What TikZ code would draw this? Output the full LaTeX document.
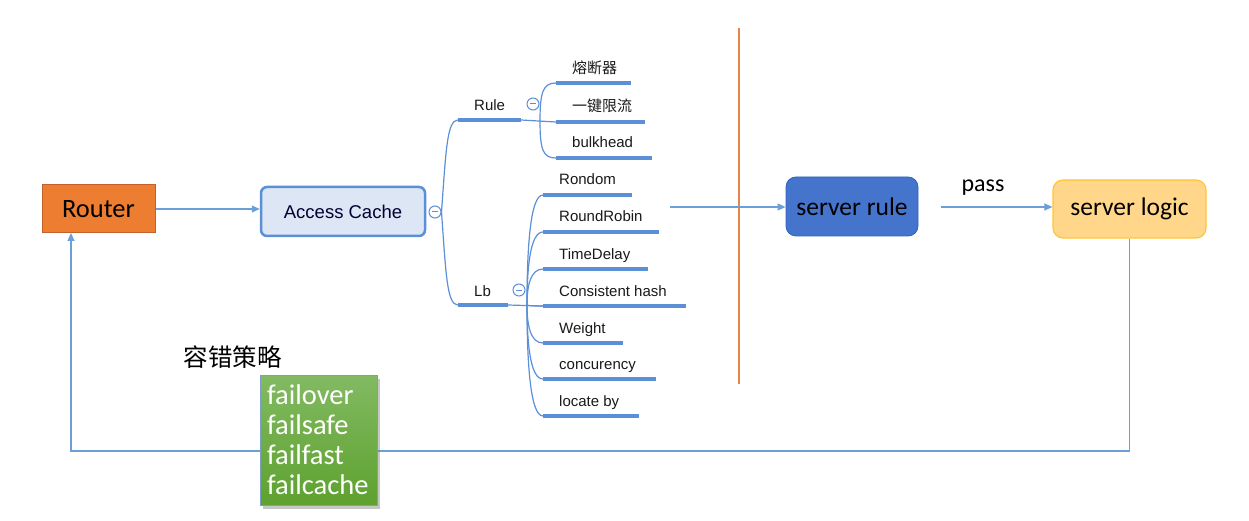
\documentclass[tikz,border=0pt]{standalone}
\usepackage{fontspec}
\setmainfont{Liberation Sans}
\newfontfamily\cjkf{Noto Sans CJK SC}
\newfontfamily\carl{Carlito}
\usetikzlibrary{arrows.meta,shadows}
\definecolor{mmblue}{HTML}{5B8FD6}
\definecolor{lnblue}{HTML}{6A9FD8}
\definecolor{routerfill}{HTML}{ED7D31}
\definecolor{routerdraw}{HTML}{C0622A}
\definecolor{acfill}{HTML}{DCE6F4}
\definecolor{acdraw}{HTML}{5B8FD6}
\definecolor{srfill}{HTML}{4574CC}
\definecolor{srbot}{HTML}{2F62BE}
\definecolor{slfill}{HTML}{FFD68A}
\definecolor{sldraw}{HTML}{FFC533}
\definecolor{gtop}{HTML}{82BA62}
\definecolor{gbot}{HTML}{5EA12F}
\definecolor{gdraw}{HTML}{7C9EC2}
\definecolor{orline}{HTML}{E8834A}
\tikzset{
  conn/.style={draw=lnblue, line width=1.2pt},
  arr/.style={conn, -{Triangle[length=8pt,width=7pt]}},
  thick ul/.style={draw=mmblue, line width=3.5pt},
  thin br/.style={draw=mmblue, line width=1.2pt},
  mmtext/.style={anchor=base west, inner sep=0pt, font=\fontsize{15}{17}\selectfont, text=black!90},
  toggle/.style={circle, draw=mmblue, fill=white, line width=1pt, minimum size=12pt, inner sep=0pt},
}
\begin{document}
\begin{tikzpicture}[x=1pt,y=-1pt]
\useasboundingbox (0,0) rectangle (1249,521);

% main nodes
\node[draw=routerdraw, fill=routerfill, line width=1pt, minimum width=113pt, minimum height=48pt, inner sep=0pt,
      text=black, font=\carl\fontsize{26.5}{28}\selectfont] (router) at (98.5,209) {Router};
\node[draw=acdraw, fill=acfill, line width=2.5pt, rounded corners=6pt, minimum width=164pt, minimum height=49pt, inner sep=0pt,
      font=\fontsize{18.5}{20}\selectfont, text=black!80!blue] (ac) at (343,211.5) {Access Cache};
\node[fill=srfill, draw=srbot, line width=0.8pt, rounded corners=10pt, minimum width=132pt, minimum height=59pt, inner sep=0pt,
      text=black, font=\carl\fontsize{25.5}{28}\selectfont] (srule) at (852,206.5) {server rule};
\node[fill=slfill, draw=sldraw, line width=1.2pt, rounded corners=10pt, minimum width=153pt, minimum height=58pt, inner sep=0pt,
      text=black, font=\carl\fontsize{25.5}{28}\selectfont] (slogic) at (1129.5,209) {server logic};

% orange divider
\coordinate (otop) at (739,28);
\coordinate (obot) at (739,384);
\draw[orline, line width=1.6pt] (otop) -- (obot);

% connectors
\draw[arr] (router.east) -- (router.east -| ac.west);
\coordinate (mmout) at (670,207);
\draw[arr] (mmout) -- (mmout -| srule.west);
\coordinate (passstart) at (941,207);
\draw[arr] (passstart) -- (passstart -| slogic.west);
\node[font=\carl\fontsize{24}{26}\selectfont, inner sep=0pt] (pass) at (983,188) {pass};

% feedback loop
\coordinate (fb) at (0,451);
\coordinate (rin) at (71,233);
\draw[arr] (slogic.south) -- (slogic.south |- fb) -- (rin |- fb) -- (rin);

% fault-tolerance label and box
\node[font=\cjkf\fontsize{24.5}{26}\selectfont, inner sep=0pt] (ftlabel) at (232.5,357) {容错策略};
\node[top color=gtop, bottom color=gbot, draw=gdraw, line width=1pt, minimum width=117pt, minimum height=130pt, inner sep=0pt,
      drop shadow={opacity=0.45, shadow xshift=2.5pt, shadow yshift=-3.5pt}] (fbox) at (318.5,440) {};
\node[inner xsep=7pt, inner ysep=0pt, text width=103pt, align=left, text=white,
      font=\carl\fontsize{28.5}{30}\selectfont, minimum height=130pt] (fbtext) at (fbox.center)
      {failover\\failsafe\\failfast\\failcache};

% ---- mind map ----
\node[toggle] (t0) at (435,212) {};
\draw[mmblue, line width=1pt] ([xshift=-3pt]t0.center) -- ([xshift=3pt]t0.center);

% Rule and Lb underlines
\coordinate (ruleA) at (458,120); \coordinate (ruleB) at (521,120);
\coordinate (lbA) at (458,305);   \coordinate (lbB) at (508,305);
\draw[thin br] (t0.east) .. controls (446,150) and (447,120) .. (ruleA);
\draw[thin br] (t0.east) .. controls (446,275) and (447,305) .. (lbA);
\draw[thick ul] (ruleA) -- (ruleB);
\draw[thick ul] (lbA) -- (lbB);
\node[mmtext] (rule) at (474,111) {Rule};
\node[mmtext] (lb) at (474,296) {Lb};

% Rule toggle and children
\node[toggle] (t1) at (533,104) {};
\draw[mmblue, line width=1pt] ([xshift=-3pt]t1.center) -- ([xshift=3pt]t1.center);
\coordinate (rb) at (540,121);
\coordinate (r1) at (556,83);  \coordinate (r1e) at (631,83);
\coordinate (r2) at (556,122); \coordinate (r2e) at (645,122);
\coordinate (r3) at (556,158); \coordinate (r3e) at (652,158);
\draw[thin br] (ruleB) -- (r2);
\draw[thin br] (rb) .. controls (540,92) and (543,83) .. (r1);
\draw[thin br] (rb) .. controls (540,150) and (543,158) .. (r3);
\draw[thick ul] (r1) -- (r1e);
\draw[thick ul] (r2) -- (r2e);
\draw[thick ul] (r3) -- (r3e);
\node[mmtext, font=\cjkf\fontsize{15}{17}\selectfont] (fuse) at (572,74) {熔断器};
\node[mmtext, font=\cjkf\fontsize{15}{17}\selectfont] (limit) at (572,112) {一键限流};
\node[mmtext] (bulk) at (572,148) {bulkhead};

% Lb toggle and children
\node[toggle] (t2) at (519,290) {};
\draw[mmblue, line width=1pt] ([xshift=-3pt]t2.center) -- ([xshift=3pt]t2.center);
\coordinate (lbr) at (527,305);
\draw[thin br] (lbB) -- (543,306);
\foreach \yy/\xe/\txt/\nm in {195/632/Rondom/l1, 232/659/RoundRobin/l2, 269/648/TimeDelay/l3,
                              306/686/Consistent hash/l4, 343/623/Weight/l5, 379/656/concurency/l6, 416/639/locate by/l7}{
  \coordinate (\nm s) at (543,\yy);
  \coordinate (\nm e) at (\xe,\yy);
  \draw[thin br] (lbr) .. controls (527,{(\yy+305)/2}) and (530,\yy) .. (\nm s);
  \draw[thick ul] (\nm s) -- (\nm e);
  \node[mmtext] (\nm) at (559,{\yy-10}) {\txt};
}
\end{tikzpicture}
\end{document}
